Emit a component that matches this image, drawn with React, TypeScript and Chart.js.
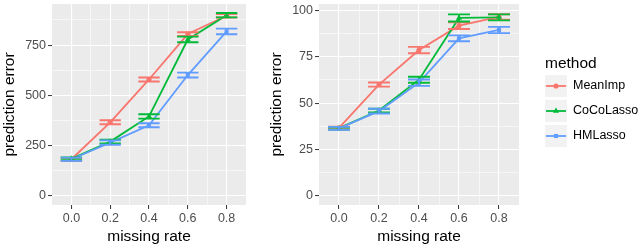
import React, { useEffect, useRef } from 'react';
import { Chart, registerables } from 'chart.js';

Chart.register(...registerables);

const FONT = '"Liberation Sans", Arial, Helvetica, sans-serif';

const MISSING_RATES = [0.0, 0.2, 0.4, 0.6, 0.8];
const METHODS = ['MeanImp', 'CoCoLasso', 'HMLasso'];
const COLORS = ['#F8766D', '#00BA38', '#619CFF'];
const POINT_STYLES = ['circle', 'triangle', 'rect'];
const POINT_RADII = [2.6, 3.5, 2.9];
const LEGEND_TITLE = 'method';
const X_TITLE = 'missing rate';
const Y_TITLE = 'prediction error';

// Left panel
const LEFT_MEANIMP = [182, 366, 579, 805, 896];
const LEFT_MEANIMP_ERR = [7, 10, 10, 9, 9];
const LEFT_COCOLASSO = [184, 270, 395, 778, 899];
const LEFT_COCOLASSO_ERR = [7, 9, 11, 14, 11];
const LEFT_HMLASSO = [182, 265, 351, 601, 818];
const LEFT_HMLASSO_ERR = [8, 11, 10, 12, 14];

// Right panel
const RIGHT_MEANIMP = [36.6, 60.0, 78.6, 91.7, 96.4];
const RIGHT_MEANIMP_ERR = [0.7, 1.1, 1.7, 1.8, 1.5];
const RIGHT_COCOLASSO = [36.5, 46.0, 62.6, 95.9, 96.2];
const RIGHT_COCOLASSO_ERR = [0.7, 1.0, 1.6, 1.9, 1.6];
const RIGHT_HMLASSO = [36.4, 45.7, 61.0, 84.9, 89.4];
const RIGHT_HMLASSO_ERR = [0.8, 1.3, 1.7, 1.6, 1.7];

const X_MAJOR = [0, 0.2, 0.4, 0.6, 0.8];
const X_MINOR = [0.1, 0.3, 0.5, 0.7];
const LEFT_Y_MAJOR = [0, 250, 500, 750];
const LEFT_Y_MINOR = [125, 375, 625, 875];
const RIGHT_Y_MAJOR = [0, 25, 50, 75, 100];
const RIGHT_Y_MINOR = [12.5, 37.5, 62.5, 87.5];

const ERR_CAP_WIDTH = 0.11;

const isIn = (arr: number[], v: number) => arr.some((a) => Math.abs(a - v) < 1e-9);

const panelBgPlugin = {
  id: 'panelBg',
  beforeDraw(chart: any) {
    const { ctx, chartArea } = chart;
    ctx.save();
    ctx.fillStyle = '#EBEBEB';
    ctx.fillRect(chartArea.left, chartArea.top, chartArea.right - chartArea.left, chartArea.bottom - chartArea.top);
    ctx.restore();
  },
};

const errorBarPlugin = {
  id: 'errorBars',
  afterDatasetsDraw(chart: any) {
    const { ctx } = chart;
    const x = chart.scales.x;
    const y = chart.scales.y;
    ctx.save();
    chart.data.datasets.forEach((ds: any) => {
      ctx.strokeStyle = ds.borderColor;
      ctx.lineWidth = 1.9;
      ds.data.forEach((p: any, j: number) => {
        const e = ds.errors[j];
        const px = x.getPixelForValue(p.x);
        const x0 = x.getPixelForValue(p.x - ERR_CAP_WIDTH / 2);
        const x1 = x.getPixelForValue(p.x + ERR_CAP_WIDTH / 2);
        const yt = y.getPixelForValue(p.y + e);
        const yb = y.getPixelForValue(p.y - e);
        ctx.beginPath();
        ctx.moveTo(px, yt);
        ctx.lineTo(px, yb);
        ctx.moveTo(x0, yt);
        ctx.lineTo(x1, yt);
        ctx.moveTo(x0, yb);
        ctx.lineTo(x1, yb);
        ctx.stroke();
      });
    });
    ctx.restore();
  },
};

function drawShape(ctx: CanvasRenderingContext2D, style: string, x: number, y: number, r: number) {
  ctx.beginPath();
  if (style === 'circle') {
    ctx.arc(x, y, r, 0, Math.PI * 2);
  } else if (style === 'triangle') {
    for (let k = 0; k < 3; k++) {
      const a = (k * 2 * Math.PI) / 3;
      const px = x + Math.sin(a) * r;
      const py = y - Math.cos(a) * r;
      if (k === 0) ctx.moveTo(px, py);
      else ctx.lineTo(px, py);
    }
    ctx.closePath();
  } else {
    const s = Math.SQRT1_2 * r;
    ctx.rect(x - s, y - s, 2 * s, 2 * s);
  }
  ctx.fill();
}

const legendPlugin = {
  id: 'ggLegend',
  afterDraw(chart: any) {
    const { ctx, chartArea } = chart;
    const x0 = chartArea.right + 26;
    ctx.save();
    ctx.fillStyle = '#000000';
    ctx.font = `15.5px ${FONT}`;
    ctx.textAlign = 'left';
    ctx.textBaseline = 'alphabetic';
    ctx.fillText(LEGEND_TITLE, x0, 68);
    METHODS.forEach((m, i) => {
      const top = 75 + i * 25;
      const cy = top + 11;
      ctx.fillStyle = '#F2F2F2';
      ctx.fillRect(x0, top, 22, 22);
      ctx.strokeStyle = COLORS[i];
      ctx.lineWidth = 1.8;
      ctx.beginPath();
      ctx.moveTo(x0 + 1, cy);
      ctx.lineTo(x0 + 21, cy);
      ctx.stroke();
      ctx.fillStyle = COLORS[i];
      drawShape(ctx, POINT_STYLES[i], x0 + 11, cy, POINT_RADII[i]);
      ctx.fillStyle = '#000000';
      ctx.font = `12.5px ${FONT}`;
      ctx.textBaseline = 'middle';
      ctx.fillText(m, x0 + 28, cy);
      ctx.textBaseline = 'alphabetic';
    });
    ctx.restore();
  },
};

function makeConfig(
  series: number[][],
  errors: number[][],
  yMin: number,
  yMax: number,
  yMajor: number[],
  yMinor: number[],
  rightPad: number,
  withLegend: boolean
): any {
  const datasets = METHODS.map((m, i) => ({
    label: m,
    data: MISSING_RATES.map((r, j) => ({ x: r, y: series[i][j] })),
    errors: errors[i],
    borderColor: COLORS[i],
    backgroundColor: COLORS[i],
    borderWidth: 1.8,
    pointStyle: POINT_STYLES[i],
    pointRadius: POINT_RADII[i],
    pointBorderWidth: 0,
    pointBackgroundColor: COLORS[i],
    order: 2 - i,
    tension: 0,
  }));
  const xTicksAll = [...X_MAJOR, ...X_MINOR].sort((a, b) => a - b);
  const yTicksAll = [...yMajor, ...yMinor].sort((a, b) => a - b);
  const gridOpts = (major: number[]) => ({
    color: '#FFFFFF',
    lineWidth: (c: any) => (c.tick && isIn(major, c.tick.value) ? 1.1 : 0.55),
    tickColor: (c: any) => (c.tick && isIn(major, c.tick.value) ? '#333333' : 'rgba(0,0,0,0)'),
    tickLength: 4,
    tickWidth: 1,
    drawOnChartArea: true,
    drawTicks: true,
  });
  return {
    type: 'line',
    data: { datasets },
    options: {
      animation: false,
      responsive: false,
      maintainAspectRatio: false,
      events: [],
      layout: { padding: { left: 0, right: rightPad, top: 0, bottom: 0 } },
      plugins: { legend: { display: false }, tooltip: { enabled: false }, title: { display: false } },
      scales: {
        x: {
          type: 'linear',
          min: -0.1,
          max: 0.9,
          afterBuildTicks: (s: any) => {
            s.ticks = xTicksAll.map((v) => ({ value: v }));
          },
          afterFit: (s: any) => {
            s.height = 40;
            s.paddingLeft = 0;
            s.paddingRight = 0;
          },
          grid: gridOpts(X_MAJOR),
          border: { display: false },
          ticks: {
            autoSkip: false,
            maxRotation: 0,
            minRotation: 0,
            padding: 2,
            color: '#4D4D4D',
            font: { family: FONT, size: 12.5 },
            callback: (v: any) => (isIn(X_MAJOR, Number(v)) ? Number(v).toFixed(1) : ''),
          },
          title: {
            display: true,
            text: X_TITLE,
            color: '#000000',
            font: { family: FONT, size: 15.5, lineHeight: 1.1 },
            padding: { top: 0, bottom: 0 },
          },
        },
        y: {
          type: 'linear',
          min: yMin,
          max: yMax,
          afterBuildTicks: (s: any) => {
            s.ticks = yTicksAll.map((v) => ({ value: v }));
          },
          afterFit: (s: any) => {
            s.width = 52;
            s.paddingTop = 0;
            s.paddingBottom = 0;
          },
          grid: gridOpts(yMajor),
          border: { display: false },
          ticks: {
            autoSkip: false,
            padding: 2,
            color: '#4D4D4D',
            font: { family: FONT, size: 12.5 },
            callback: (v: any) => (isIn(yMajor, Number(v)) ? String(v) : ''),
          },
          title: {
            display: true,
            text: Y_TITLE,
            color: '#000000',
            font: { family: FONT, size: 15.5, lineHeight: 1.1 },
            padding: { top: 1, bottom: 0 },
          },
        },
      },
    },
    plugins: withLegend ? [panelBgPlugin, errorBarPlugin, legendPlugin] : [panelBgPlugin, errorBarPlugin],
  };
}

export default function App() {
  const leftRef = useRef<HTMLCanvasElement | null>(null);
  const rightRef = useRef<HTMLCanvasElement | null>(null);

  useEffect(() => {
    const left = new Chart(
      leftRef.current as HTMLCanvasElement,
      makeConfig(
        [LEFT_MEANIMP, LEFT_COCOLASSO, LEFT_HMLASSO],
        [LEFT_MEANIMP_ERR, LEFT_COCOLASSO_ERR, LEFT_HMLASSO_ERR],
        -45.5,
        954.5,
        LEFT_Y_MAJOR,
        LEFT_Y_MINOR,
        24,
        false
      )
    );
    const right = new Chart(
      rightRef.current as HTMLCanvasElement,
      makeConfig(
        [RIGHT_MEANIMP, RIGHT_COCOLASSO, RIGHT_HMLASSO],
        [RIGHT_MEANIMP_ERR, RIGHT_COCOLASSO_ERR, RIGHT_HMLASSO_ERR],
        -4.9,
        103.4,
        RIGHT_Y_MAJOR,
        RIGHT_Y_MINOR,
        121,
        true
      )
    );
    return () => {
      left.destroy();
      right.destroy();
    };
  }, []);

  return (
    <div style={{ position: 'absolute', left: 0, top: 0, width: 640, height: 245, background: '#FFFFFF', overflow: 'hidden' }}>
      <canvas ref={leftRef} width={270} height={245} style={{ position: 'absolute', left: 0, top: 0, width: 270, height: 245 }} />
      <canvas ref={rightRef} width={373} height={245} style={{ position: 'absolute', left: 267, top: 0, width: 373, height: 245 }} />
    </div>
  );
}
